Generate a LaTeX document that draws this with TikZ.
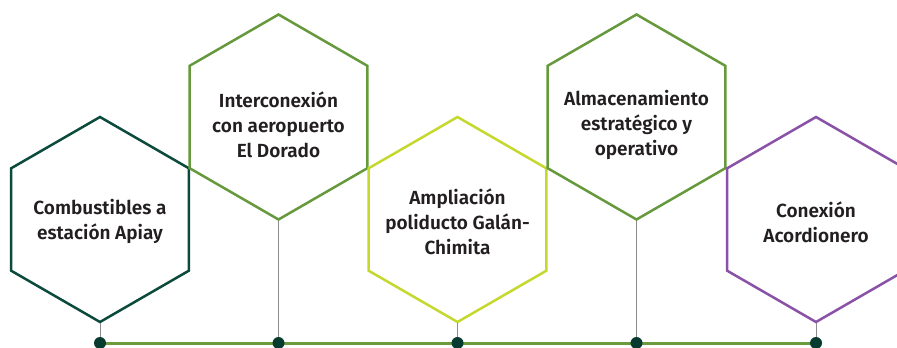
\documentclass[tikz,border=0pt]{standalone}
\usepackage{fontspec}
\setmainfont{Fira Sans}[BoldFont={Fira Sans SemiBold}]
\usepackage{tikz}
\usetikzlibrary{shapes.geometric}
\definecolor{ecpine}{HTML}{0C4A3C}
\definecolor{ecleaf}{HTML}{66993B}
\definecolor{eclime}{HTML}{C4D82E}
\definecolor{ecviolet}{HTML}{8A52A6}
\definecolor{ecdot}{HTML}{073B30}
\definecolor{ecrail}{HTML}{6A9C3E}
\definecolor{ecstem}{HTML}{8C8C8C}
\definecolor{ecink}{HTML}{231F20}
\tikzset{
  hexa/.style={regular polygon,regular polygon sides=6,shape border rotate=30,
    minimum size=205pt,inner sep=0pt,line width=2.5pt,fill=white},
  hexlabel/.style={font=\fontsize{19}{25}\selectfont\bfseries,text=ecink,align=center,inner sep=0pt},
  rail/.style={draw=ecrail,line width=3pt},
  stem/.style={draw=ecstem,line width=1pt},
  dot/.style={circle,fill=ecdot,minimum size=12pt,inner sep=0pt}
}

\begin{document}
\begin{tikzpicture}[x=1pt,y=-1pt]
  \useasboundingbox (0,0) rectangle (897,348);

  \node[hexa,draw=ecpine] (apiay) at (100,219.5) {};
  \node[hexa,draw=ecleaf] (dorado) at (278.5,117) {};
  \node[hexa,draw=eclime] (galan) at (457.5,219.5) {};
  \node[hexa,draw=ecleaf] (almacen) at (636.5,117) {};
  \node[hexa,draw=ecviolet] (acordionero) at (816,219.5) {};

  \node[hexlabel] (apiaytxt) at ([yshift=-1.5pt]apiay.center) {Combustibles a\\estación Apiay};
  \node[hexlabel] (doradotxt) at ([yshift=-8pt]dorado.center) {Interconexión\\con aeropuerto\\El Dorado};
  \node[hexlabel] (galantxt) at ([yshift=-2.5pt]galan.center) {Ampliación\\poliducto Galán-\\Chimita};
  \node[hexlabel] (almacentxt) at ([yshift=-8pt]almacen.center) {Almacenamiento\\estratégico y\\operativo};
  \node[hexlabel] (acordionerotxt) at ([yshift=-2.5pt]acordionero.center) {Conexión\\Acordionero};

  % feet on the base line
  \coordinate (base) at (0,343);
  \foreach \h/\f in {apiay/f1,dorado/f2,galan/f3,almacen/f4,acordionero/f5}
    \coordinate (\f) at (\h.south |- base);

  \draw[rail] (f1) -- (f5);
  \foreach \h/\f in {apiay/f1,dorado/f2,galan/f3,almacen/f4,acordionero/f5} {
    \draw[stem] (\h.south) -- (\f);
    \node[dot] (\f dot) at (\f) {};
  }
\end{tikzpicture}
\end{document}
